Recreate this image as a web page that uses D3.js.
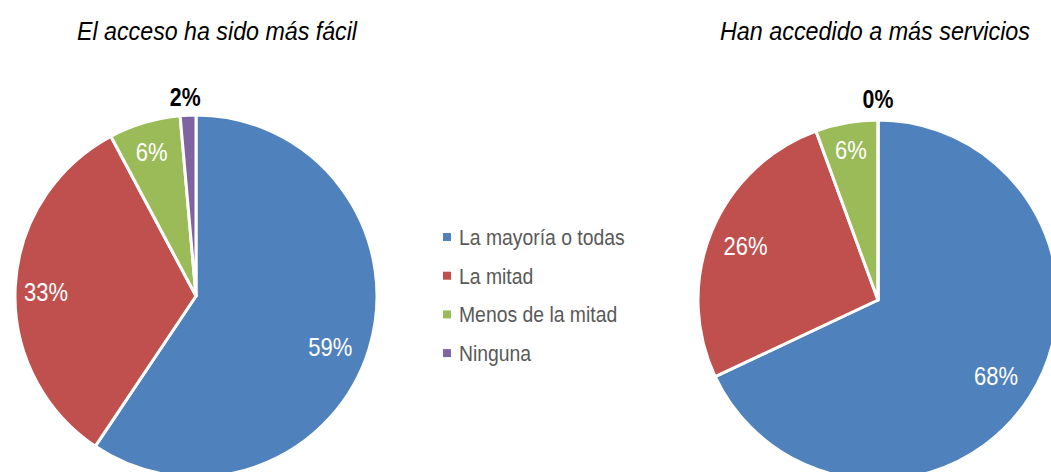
<!DOCTYPE html>
<html>
<head>
<meta charset="utf-8">
<script src="https://cdn.jsdelivr.net/npm/d3@7"></script>
<style>
  body { margin: 0; background: #fff; }
  svg { display: block; font-family: "Liberation Sans Narrow", "Arial Narrow", "Liberation Sans", sans-serif; }
</style>
</head>
<body>
<div id="chart"></div>
<script>
// categories and colours
const categories = ['La mayoría o todas', 'La mitad', 'Menos de la mitad', 'Ninguna'];
const colors = ['#4f81bd', '#c0504d', '#9bbb59', '#8064a2'];

// chart titles
const titles = ['El acceso ha sido más fácil', 'Han accedido a más servicios'];

// slice values and their printed labels
const valuesEasier = [59.4, 32.8, 6.4, 1.4];
const labelsEasier = ['59%', '33%', '6%', '2%'];
const valuesMore = [68.0, 26.4, 5.6, 0.0];
const labelsMore = ['68%', '26%', '6%', '0%'];

const width = 1051, height = 472;

const svg = d3.select('#chart').append('svg')
    .attr('width', width)
    .attr('height', height);

const color = d3.scaleOrdinal().domain(categories).range(colors);

// draws one pie with title and labels
function drawPie(values, labels, title, cx, cy, r, titleX, titleW, labelPos){
    const data = categories.map((c, i) => ({cat: c, value: values[i], label: labels[i], pos: labelPos[i]}));
    const pie = d3.pie().sort(null).value(d => d.value);
    const arc = d3.arc().innerRadius(0).outerRadius(r);

    svg.append('text')
        .attr('x', titleX - titleW / 2)
        .attr('y', 40)
        .attr('font-size', 25)
        .attr('font-style', 'italic')
        .attr('fill', '#000')
        .attr('textLength', titleW)
        .attr('lengthAdjust', 'spacingAndGlyphs')
        .text(title);

    const g = svg.append('g').attr('transform', `translate(${cx},${cy})`);

    const arcs = pie(data);
    g.selectAll('path')
        .data(arcs)
        .join('path')
        .attr('d', arc)
        .attr('fill', d => color(d.data.cat))
        .attr('stroke', '#fff')
        .attr('stroke-width', 3)
        .attr('stroke-linejoin', 'round');

    // labels: inside ones in white, the small slices get a bold black label above the pie
    g.selectAll('text')
        .data(arcs)
        .join('text')
        .attr('transform', d => {
            const a = (d.startAngle + d.endAngle) / 2;
            const rr = r * d.data.pos.k;
            const sx = d.data.pos.out ? 0.82 : 0.88;
            return `translate(${Math.sin(a) * rr + d.data.pos.dx},${-Math.cos(a) * rr + d.data.pos.dy}) scale(${sx},1)`;
        })
        .attr('text-anchor', 'middle')
        .attr('dominant-baseline', 'central')
        .attr('font-size', d => d.data.pos.out ? 26 : 25)
        .attr('font-weight', d => d.data.pos.out ? 'bold' : 'normal')
        .attr('fill', d => d.data.pos.out ? '#000' : '#fff')
        .text(d => d.data.label);
}

drawPie(valuesEasier, labelsEasier, titles[0], 196, 296, 181, 217, 280, [
    {k: 0.77, dx: 1, dy: 11},
    {k: 0.83, dx: 0, dy: 4},
    {k: 0.8, dx: -3, dy: -5},
    {k: 1.1, dx: -2, dy: 0, out: true}
]);

drawPie(valuesMore, labelsMore, titles[1], 878, 300, 180, 875, 310, [
    {k: 0.75, dx: 4, dy: 4},
    {k: 0.76, dx: -6, dy: -2},
    {k: 0.86, dx: 0, dy: 3},
    {k: 1.12, dx: 0, dy: 0, out: true}
]);

// legend
const legend = svg.append('g').attr('transform', 'translate(443,237)');
const rows = legend.selectAll('g')
    .data(categories)
    .join('g')
    .attr('transform', (d, i) => `translate(0,${i * 38.7})`);
rows.append('rect')
    .attr('x', 0).attr('y', -4)
    .attr('width', 8).attr('height', 8)
    .attr('fill', d => color(d));
rows.append('text')
    .attr('transform', `translate(16,0) scale(0.88,1)`)
    .attr('dominant-baseline', 'central')
    .attr('font-size', 22)
    .attr('fill', '#595959')
    .text(d => d);
</script>
</body>
</html>
